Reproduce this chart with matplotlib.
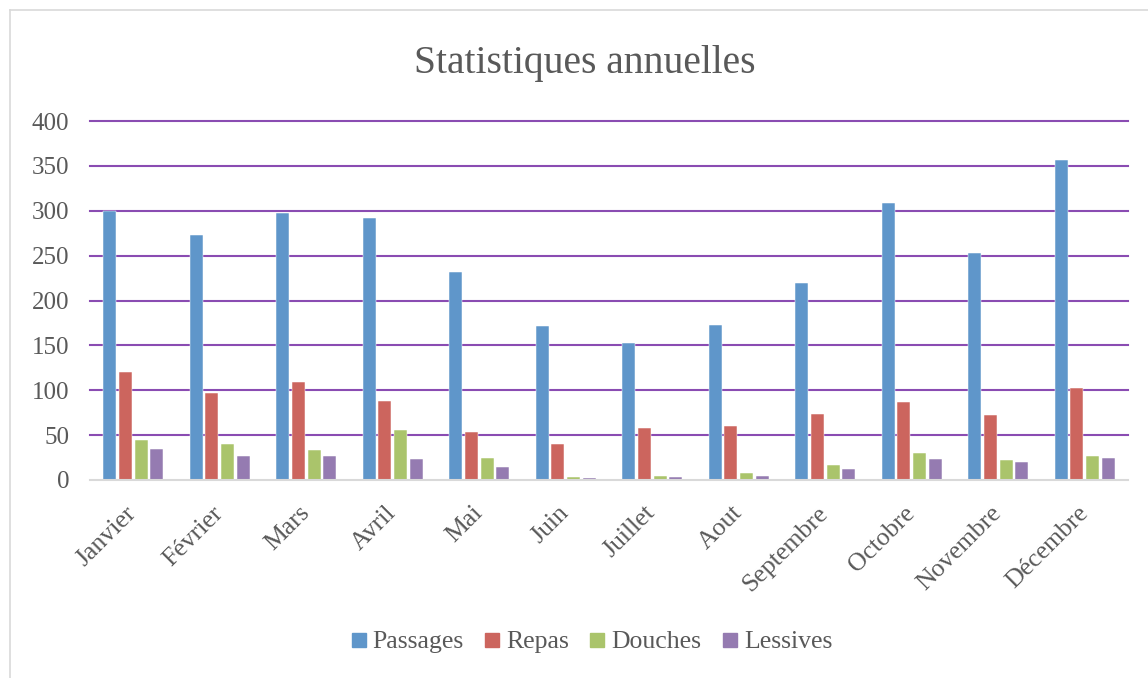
import matplotlib
matplotlib.use("Agg")
import matplotlib.pyplot as plt
import matplotlib.transforms as mtransforms
import numpy as np
from matplotlib.lines import Line2D

months = ["Janvier", "Février", "Mars", "Avril", "Mai", "Juin", "Juillet",
          "Aout", "Septembre", "Octobre", "Novembre", "Décembre"]
passages = [300, 273, 297, 292, 232, 172, 153, 173, 220, 309, 253, 356]
repas = [120, 97, 109, 88, 53, 40, 58, 60, 73, 87, 72, 103]
douches = [45, 40, 33, 56, 25, 3, 5, 8, 17, 30, 22, 27]
lessives = [35, 27, 27, 23, 15, 2, 3, 5, 12, 23, 20, 25]
series_names = ["Passages", "Repas", "Douches", "Lessives"]
yticks = [0, 50, 100, 150, 200, 250, 300, 350, 400]

colors = ["#5F96CA", "#CC655E", "#AAC46B", "#957BB1"]
text_color = "#595959"
font = "Liberation Serif"

fig = plt.figure(figsize=(11.48, 6.78), dpi=100)
ax = fig.add_axes([90 / 1148, 1 - 480 / 678, 1038 / 1148, 359 / 678])

x = np.arange(len(months))
pitch = 0.18
width = 0.15
for i, (vals, c) in enumerate(zip([passages, repas, douches, lessives], colors)):
    ax.bar(x + (i - 1.5) * pitch, vals, width=width, color=c,
           edgecolor="white", linewidth=0.35, zorder=3, label=series_names[i])

ax.set_xlim(-0.5, len(months) - 0.5)
ax.set_ylim(0, 400)
ax.set_yticks(yticks)
ax.set_yticklabels([str(v) for v in yticks], fontsize=18, family=font, color=text_color)
for v in yticks[1:]:
    ax.axhline(v, color="#8A4CB2", linewidth=1.5, zorder=1, clip_on=False)
ax.set_xticks(x)
ax.set_xticklabels([])
offset = mtransforms.ScaledTranslation(4 / 100, -34 / 100, fig.dpi_scale_trans)
for xi, m in zip(x, months):
    ax.text(xi, 0, m, rotation=45, ha="right", va="baseline", rotation_mode="anchor",
            fontsize=18.5, family=font, color=text_color,
            transform=ax.get_xaxis_transform() + offset, clip_on=False)
ax.tick_params(axis="both", length=0)
ax.tick_params(axis="y", pad=15)
for s in ["top", "right", "left"]:
    ax.spines[s].set_visible(False)
ax.spines["bottom"].set_color("#D9D9D9")
ax.spines["bottom"].set_linewidth(1.5)
ax.spines["bottom"].set_zorder(4)

fig.text(585 / 1148, 1 - 64 / 678, "Statistiques annuelles", ha="center", va="center",
         fontsize=28.5, family=font, color=text_color)

handles = [Line2D([0], [0], marker="s", linestyle="none", markersize=10,
                  markerfacecolor=c, markeredgecolor=c) for c in colors]
fig.legend(handles, series_names, loc="center", bbox_to_anchor=(589 / 1148, 1 - 642 / 678),
           ncol=4, frameon=False, prop={"family": font, "size": 18.5},
           labelcolor=text_color, handletextpad=0.05, columnspacing=0.6, handlelength=1.0)

# outer chart border (light gray)
fig.add_artist(Line2D([10 / 1148, 10 / 1148], [0, 1 - 10 / 678], transform=fig.transFigure,
                      color="#D9D9D9", linewidth=1.2))
fig.add_artist(Line2D([10 / 1148, 1], [1 - 10 / 678, 1 - 10 / 678], transform=fig.transFigure,
                      color="#D9D9D9", linewidth=1.2))

fig.savefig("out.png", dpi=100)
